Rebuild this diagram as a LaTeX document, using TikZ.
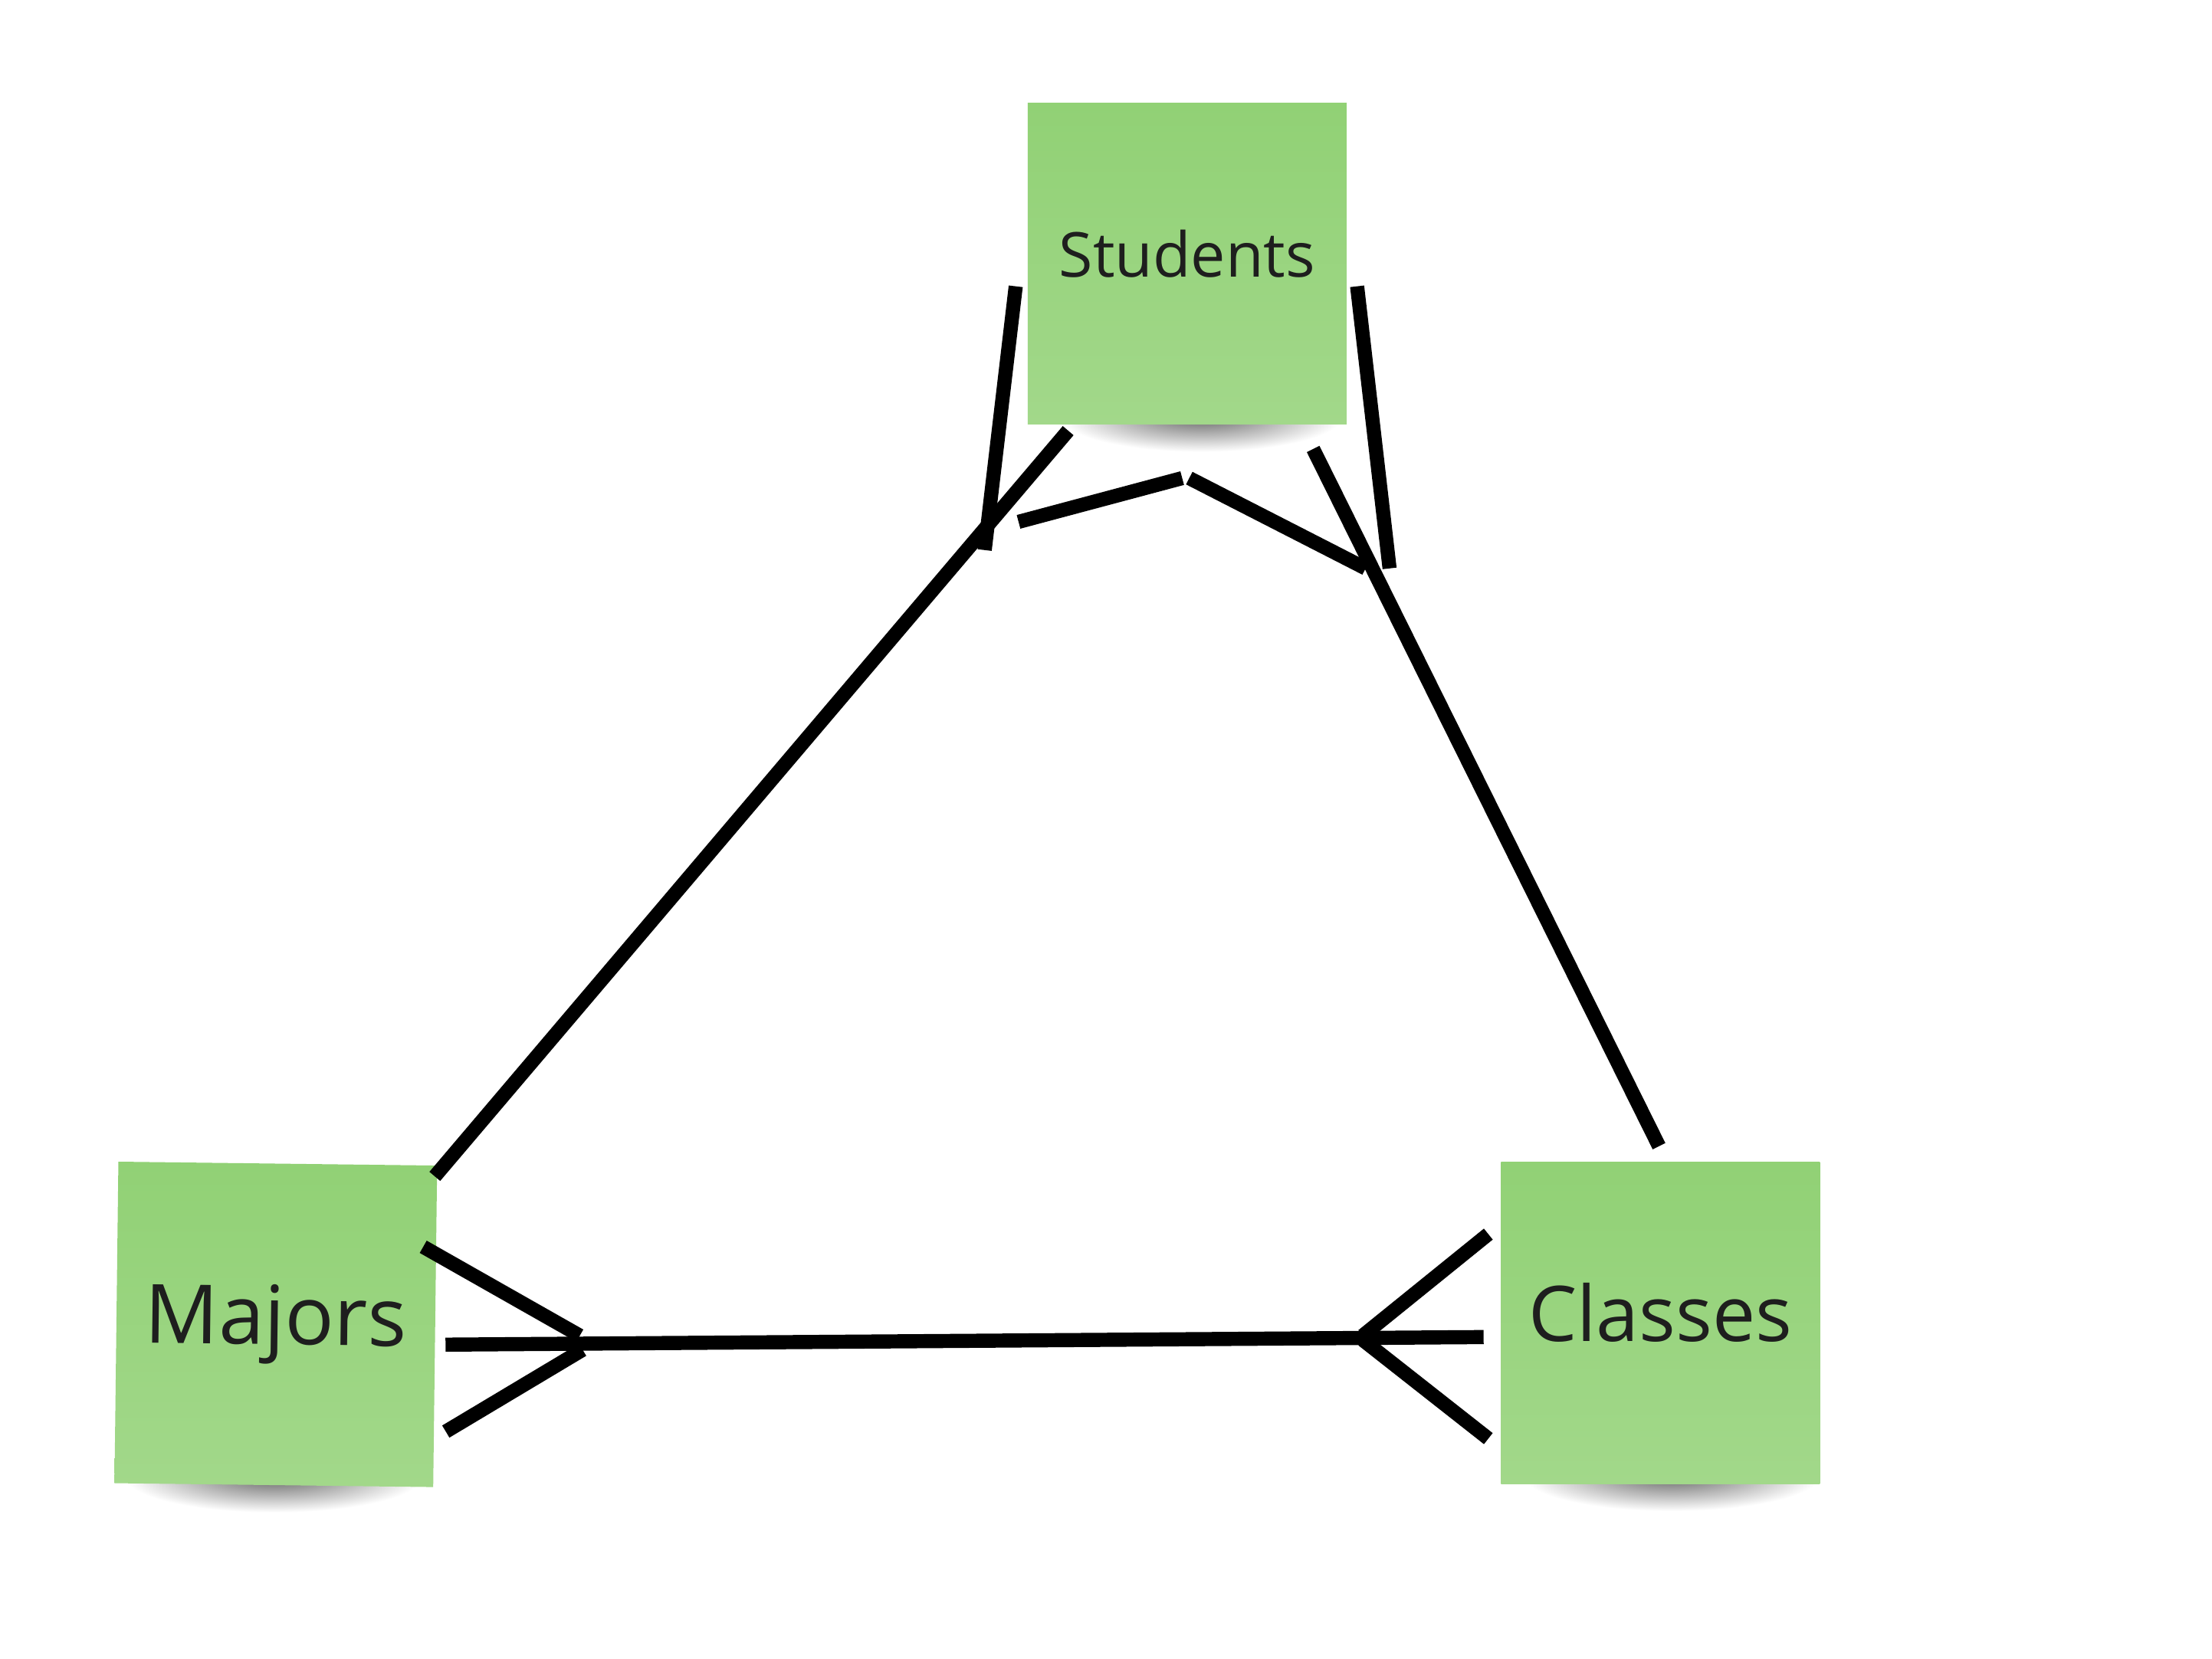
\documentclass[tikz,border=0pt]{standalone}
\usepackage{fontspec}
\setmainfont{Open Sans}
\usetikzlibrary{calc,backgrounds}
\definecolor{notetop}{RGB}{145,209,117}
\definecolor{notebot}{RGB}{162,216,138}
\definecolor{notetext}{RGB}{30,30,30}

\begin{document}
\begin{tikzpicture}[x=0.02cm,y=-0.02cm,
	note/.style={rectangle,inner sep=0pt,minimum width=4.52cm,minimum height=4.56cm,
		top color=notetop,bottom color=notebot,text=notetext},
	rel/.style={line width=5.7pt,black},
	shadowblob/.style={inner color=black!60,outer color=white}]

	\node[note,font=\fontsize{25}{30}\selectfont] (stu) at (841.5,187) {\raisebox{8pt}{Students}};
	\node[note,font=\fontsize{33}{40}\selectfont,rotate=-0.7] (maj) at (195.5,939) {\raisebox{2pt}{Majors}};
	\node[note,font=\fontsize{31}{37}\selectfont] (cla) at (1177,938) {\raisebox{9pt}{Classes}};

	\begin{scope}[on background layer]
		\fill[white] (0,0) rectangle (1568,1176);
		\shade[shadowblob] ($(stu.south)+(10,-6)$) ellipse [x radius=2.0cm,y radius=0.5cm];
		\shade[shadowblob] ($(maj.south)+(0,-6)$) ellipse [x radius=2.1cm,y radius=0.5cm];
		\shade[shadowblob] ($(cla.south)+(8,-6)$) ellipse [x radius=2.1cm,y radius=0.5cm];
	\end{scope}

	% Majors -- Students
	\draw[rel] ($(maj.north east)+(-2,8)$) -- ($(stu.south west)+(29,4)$);
	\coordinate (s1a) at (720,203);
	\coordinate (s1b) at (698,390);
	\coordinate (s2a) at (722,370);
	\coordinate (s2b) at (838,339);
	\coordinate (s3a) at (843,339);
	\coordinate (s3b) at (968,403);
	\coordinate (s4a) at (962,203);
	\coordinate (s4b) at (985,403);
	\draw[rel] (s1a) -- (s1b);
	\draw[rel] (s2a) -- (s2b);
	\draw[rel] (s3a) -- (s3b);
	\draw[rel] (s4a) -- (s4b);

	% Students -- Classes
	\draw[rel] ($(stu.south east)+(-24,17)$) -- ($(cla.north)+(-1,-11)$);

	% Majors -- Classes
	\draw[rel] ($(maj.east)+(7,13)$) -- ($(cla.west)+(-12,10)$);
	\coordinate (m1a) at (300,884);
	\coordinate (m1b) at (411,947);
	\coordinate (m2a) at (316,1015);
	\coordinate (m2b) at (413,957);
	\coordinate (c1a) at (1055,875);
	\coordinate (c1b) at (966,947);
	\coordinate (c2a) at (966,950);
	\coordinate (c2b) at (1055,1020);
	\draw[rel] (m1a) -- (m1b);
	\draw[rel] (m2a) -- (m2b);
	\draw[rel] (c1a) -- (c1b);
	\draw[rel] (c2a) -- (c2b);
\end{tikzpicture}
\end{document}
